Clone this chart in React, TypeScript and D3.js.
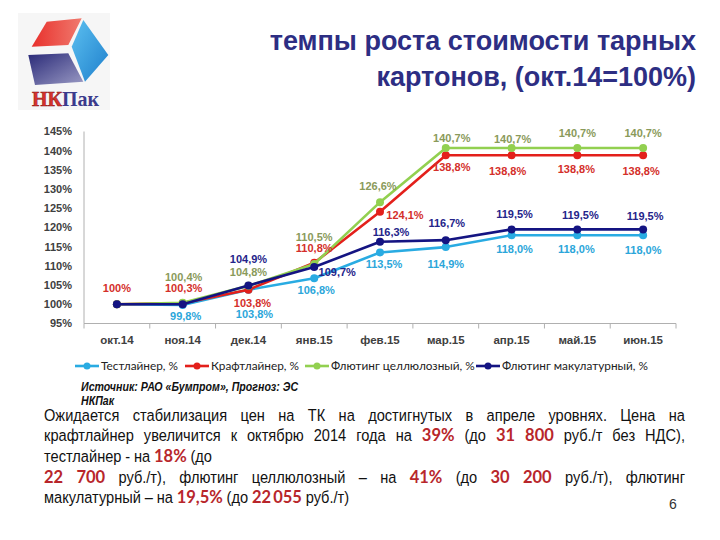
import React, { useRef, useEffect } from 'react';
import * as d3 from 'd3';

// chart data (oct.14 = 100%)
const months = ['окт.14', 'ноя.14', 'дек.14', 'янв.15', 'фев.15', 'мар.15', 'апр.15', 'май.15', 'июн.15'];
const testliner = [100, 99.8, 103.8, 106.8, 113.5, 114.9, 118.0, 118.0, 118.0];
const kraftliner = [100, 100.3, 103.8, 110.8, 124.1, 138.8, 138.8, 138.8, 138.8];
const flutingCell = [100, 100.4, 104.8, 110.5, 126.6, 140.7, 140.7, 140.7, 140.7];
const flutingWaste = [100, 100, 104.9, 109.7, 116.3, 116.7, 119.5, 119.5, 119.5];
const seriesNames = ['Тестлайнер, %', 'Крафтлайнер, %', 'Флютинг целлюлозный, %', 'Флютинг макулатурный, %'];
const yTicks = [95, 100, 105, 110, 115, 120, 125, 130, 135, 140, 145];

const titleLines = ['темпы роста стоимости тарных', 'картонов, (окт.14=100%)'];
const sourceLines = ['Источник: РАО «Бумпром», Прогноз: ЭС', 'НКПак'];
// *word* = red bold
const bodyLines = [
  'Ожидается стабилизация цен на ТК на достигнутых в апреле уровнях. Цена на',
  'крафтлайнер увеличится к октябрю 2014 года на *39%* (до *31* *800* руб./т без НДС),',
  'тестлайнер - на *18%* (до',
  '*22* *700* руб./т), флютинг целлюлозный – на *41%* (до *30* *200* руб./т), флютинг',
  'макулатурный – на *19,5%* (до *22\u2009055* руб./т)',
];
const justified = [true, true, false, true, false];

// label offsets from each point (null = no label)
type Off = [number, number] | null;
const cyanOff: Off[] = [null, [3, 11], [6, 24], [2, 12], [4, 12], [0, 17], [3, 14], [-1, 14], [0, 15]];
const redOff: Off[] = [[0, -16], [1, -15], [4, 13], [0, -15], [25, 3], [6, 12], [-4, 16], [-1, 14], [-2, 16]];
const greenOff: Off[] = [null, [1, -26], [0, -14], [0, -27], [-2, -16], [6, -10], [1, -9], [0, -15], [0, -15]];
const navyOff: Off[] = [null, null, [0, -26], [23, 5], [11, -10], [1, -17], [3, -15], [3, -14], [2, -13]];

const series = [
  { values: testliner, color: '#29abe2', label: '#2ba6da', off: cyanOff },
  { values: kraftliner, color: '#e3201b', label: '#d42f2a', off: redOff },
  { values: flutingCell, color: '#92d050', label: '#8a9a5a', off: greenOff },
  { values: flutingWaste, color: '#141482', label: '#24248a', off: navyOff },
];

const legendX = [75, 185, 305, 476];

const fmt = (v: number) => (v === 100 ? '100%' : v.toFixed(1).replace('.', ',') + '%');

const sans = "'Liberation Sans', Arial, sans-serif";
const NARROW = 0.86; // Arial Narrow ~ Arial squeezed

export default function App() {
  const bodyRef = useRef<SVGGElement>(null);

  const x = d3.scaleBand<string>().domain(months).range([84, 676]).padding(0);
  const y = d3.scaleLinear().domain([95, 145]).range([323.5, 131.5]);
  const cx = (i: number) => (x(months[i]) as number) + x.bandwidth() / 2;
  const line = d3.line<number>().x((_, i) => cx(i)).y((d) => y(d));

  useEffect(() => {
    const g = d3.select(bodyRef.current);
    g.selectAll('*').remove();
    const left = 44;
    const right = 685;
    const baselines = [421, 441, 462, 483, 503];
    bodyLines.forEach((ln, li) => {
      const words = ln.split(' ').map((w) => {
        const red = w.length > 2 && w.startsWith('*') && w.endsWith('*');
        return { t: red ? w.slice(1, -1) : w, red };
      });
      const nodes = words.map((w) =>
        g
          .append('text')
          .style('font-family', w.red ? "Lato, 'Open Sans', sans-serif" : sans)
          .style('font-weight', w.red ? 'bold' : 'normal')
          .style('font-size', w.red ? '16.5px' : '17px')
          .attr('fill', w.red ? '#b8262b' : '#111')
          .text(w.t)
      );
      const widths = nodes.map(
        (n, i) => (n.node() as SVGTextElement).getComputedTextLength() * (words[i].red ? 1 : NARROW)
      );
      const total = d3.sum(widths);
      const gap = justified[li] ? (right - left - total) / (words.length - 1) : 3.8;
      let px = left;
      nodes.forEach((n, i) => {
        const sx = words[i].red ? 1 : NARROW;
        n.attr('transform', `translate(${px},${baselines[li]}) scale(${sx},1)`);
        px += widths[i] + gap;
      });
    });
  }, []);

  return (
    <svg width={720} height={540} style={{ position: 'absolute', left: 0, top: 0, background: '#fff' }}>
      <defs>
        <linearGradient id="gRed" x1="0" y1="0" x2="1" y2="0">
          <stop offset="0" stopColor="#e8302c" />
          <stop offset="1" stopColor="#f07a6e" />
        </linearGradient>
        <linearGradient id="gBlue" x1="0" y1="0" x2="1" y2="1">
          <stop offset="0" stopColor="#5cc0f0" />
          <stop offset="1" stopColor="#1e7fcc" />
        </linearGradient>
        <linearGradient id="gNavy" x1="0" y1="0" x2="1" y2="1">
          <stop offset="0" stopColor="#2a2a78" />
          <stop offset="1" stopColor="#9a9ac4" />
        </linearGradient>
      </defs>

      {/* logo */}
      <rect x={18} y={13} width={92} height={97} fill="#f6f6f6" />
      <polygon points="31.7,46.7 46.7,21.7 81.7,18.3 68.3,45" fill="url(#gRed)" />
      <polygon points="83.3,20 108.3,55 85,81.7 71.7,46.7" fill="url(#gBlue)" />
      <polygon points="28.3,55 68.3,53.3 83.3,81.7 35,85" fill="url(#gNavy)" />
      <text x={32} y={106} style={{ fontFamily: "'Liberation Serif', serif", fontWeight: 'bold', fontSize: 20 }}>
        <tspan fill="#d8322c" stroke="#8a1a1a" strokeWidth={0.5}>НК</tspan>
        <tspan fill="#3b3b8c">Пак</tspan>
      </text>

      {/* title */}
      {titleLines.map((t, i) => (
        <text
          key={t}
          x={696}
          y={i === 0 ? 50 : 86}
          textAnchor="end"
          fill="#2d2e83"
          style={{ fontFamily: sans, fontWeight: 'bold', fontSize: 27 }}
        >
          {t}
        </text>
      ))}

      {/* axes */}
      <g style={{ fontFamily: sans, fontWeight: 'bold', fontSize: 11 }} fill="#404040">
        <line x1={84} x2={84} y1={y(145)} y2={y(95)} stroke="#b0b0b0" />
        <line x1={84} x2={676} y1={y(95)} y2={y(95)} stroke="#b0b0b0" />
        {months.map((m) => (
          <line key={'t' + m} x1={x(m)} x2={x(m)} y1={y(95)} y2={y(95) + 5} stroke="#b0b0b0" />
        ))}
        <line x1={676} x2={676} y1={y(95)} y2={y(95) + 5} stroke="#b0b0b0" />
        {yTicks.map((t) => (
          <text key={t} x={72} y={y(t)} dy="0.35em" textAnchor="end">
            {t}%
          </text>
        ))}
        {months.map((m, i) => (
          <text key={m} x={cx(i)} y={344} textAnchor="middle" style={{ fontSize: 11.5 }}>
            {m}
          </text>
        ))}
      </g>

      {/* lines and markers */}
      {series.map((s) => (
        <g key={s.color}>
          <path d={line(s.values) as string} fill="none" stroke={s.color} strokeWidth={2.6} strokeLinejoin="round" />
          {s.values.map((v, i) => (
            <circle key={i} cx={cx(i)} cy={y(v)} r={4} fill={s.color} />
          ))}
        </g>
      ))}

      {/* data labels */}
      <g style={{ fontFamily: sans, fontWeight: 'bold', fontSize: 11 }}>
        {series.map((s) =>
          s.values.map((v, i) => {
            const o = s.off[i];
            if (!o) return null;
            return (
              <text key={s.color + i} x={cx(i) + o[0]} y={y(v) + o[1]} dy="0.35em" textAnchor="middle" fill={s.label}>
                {fmt(v)}
              </text>
            );
          })
        )}
      </g>

      {/* legend */}
      <g style={{ fontFamily: "Lato, 'Open Sans', sans-serif", fontSize: 11.8 }} fill="#222">
        {series.map((s, i) => (
          <g key={seriesNames[i]} transform={`translate(${legendX[i]},366)`}>
            <line x1={0} x2={24} stroke={s.color} strokeWidth={2.6} />
            <circle cx={12} r={3.5} fill={s.color} />
            <text x={26} dy="0.35em">
              {seriesNames[i]}
            </text>
          </g>
        ))}
      </g>

      {/* source */}
      {sourceLines.map((t, i) => (
        <text
          key={t}
          transform={`translate(81,${391 + i * 14}) scale(0.85,1)`}
          fill="#111"
          style={{ fontFamily: sans, fontWeight: 'bold', fontStyle: 'italic', fontSize: 12.5 }}
        >
          {t}
        </text>
      ))}

      {/* body text */}
      <g ref={bodyRef} />

      <text x={673} y={509} textAnchor="middle" fill="#333" style={{ fontFamily: sans, fontSize: 14 }}>
        6
      </text>
    </svg>
  );
}
